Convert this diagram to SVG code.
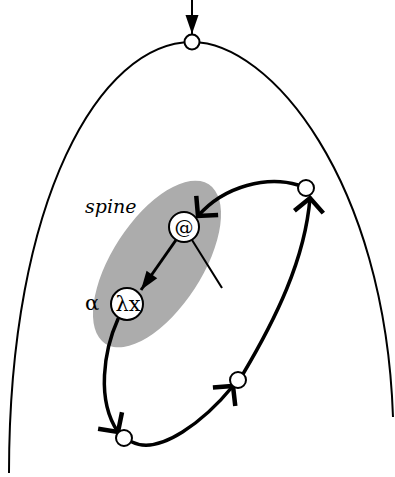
<svg xmlns="http://www.w3.org/2000/svg" width="395" height="477" viewBox="0 0 395 477">
<style>
.node{fill:#fff;stroke:#000;stroke-width:2}
.cyc{fill:none;stroke:#000;stroke-width:3.5;stroke-linecap:round}
.thin{fill:none;stroke:#000;stroke-width:2}
.lbl{font-family:"DejaVu Serif","Liberation Serif",serif;fill:#000}
</style>
<defs>
<marker id="tri" markerUnits="userSpaceOnUse" viewBox="-20 -10 22 20" refX="0" refY="0" markerWidth="22" markerHeight="20" orient="auto">
<path d="M0 0 L-19 -6.5 L-19 6.5 Z" fill="#000"/>
</marker>
<marker id="barb" markerUnits="userSpaceOnUse" viewBox="-20 -20 24 40" refX="0" refY="0" markerWidth="24" markerHeight="40" orient="auto">
<path d="M-14 -14.5 L0 0 L-14 14.5" fill="none" stroke="#000" stroke-width="4.5"/>
</marker>
</defs>
<rect width="395" height="477" fill="#fff"/>
<ellipse id="spine-region" cx="157" cy="264" rx="95" ry="45" transform="rotate(-57 157 264)" fill="#acacac"/>
<g id="connectors">
<path class="thin" d="M9 473 C9 200 100 42 192 42 C270 42 385 180 393 417"/>
<path class="thin" d="M192 0 L192 34" marker-end="url(#tri)"/>
<path d="M176 240 L141 290" fill="none" stroke="#000" stroke-width="3" marker-end="url(#tri)"/>
<path class="thin" d="M192 240 L222 288"/>
<path class="cyc" d="M118 319 C104 350 96 400 118 432" marker-end="url(#barb)"/>
<path class="cyc" d="M132 442 C160 456 205 420 233 386" marker-end="url(#barb)"/>
<path class="cyc" d="M243 374 C275 320 305 260 310 198" marker-end="url(#barb)"/>
<path class="cyc" d="M298 185 C268 176 225 185 198 216" marker-end="url(#barb)"/>
</g>
<g id="n-top"><circle class="node" cx="192" cy="42" r="7.5"/></g>
<g id="n-app"><circle class="node" cx="184" cy="227" r="15" stroke-width="2.5"/><text class="lbl" x="184" y="234" font-size="19" text-anchor="middle">@</text></g>
<g id="n-lam"><circle class="node" cx="127" cy="304" r="16"/><text class="lbl" x="128" y="311" font-size="21" text-anchor="middle">λx</text></g>
<g id="n-bottom"><circle class="node" cx="124" cy="438" r="8"/></g>
<g id="n-mid"><circle class="node" cx="238" cy="380" r="8"/></g>
<g id="n-right"><circle class="node" cx="306" cy="188" r="8"/></g>
<text class="lbl" x="85" y="310" font-size="21">α</text>
<text class="lbl" x="85" y="213" font-size="19" font-style="italic">spine</text>
</svg>
